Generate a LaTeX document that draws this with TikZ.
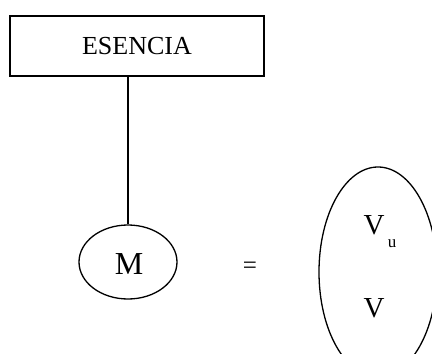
\documentclass[tikz,border=0pt]{standalone}
\usepackage{fontspec}
\setmainfont{Liberation Serif}
\usetikzlibrary{shapes.geometric}
\begin{document}
\begin{tikzpicture}[x=1pt,y=-1pt,
  titlebox/.style={draw,line width=1.8pt,rectangle,minimum width=254pt,minimum height=60pt,inner sep=0pt,font=\fontsize{26}{30}\selectfont},
  oval/.style={draw,line width=1.3pt,ellipse,inner sep=0pt},
  lbl/.style={inner sep=0pt,anchor=center}]
\useasboundingbox (0,0) rectangle (432,354);
% heading box
\node[titlebox] (box) at (137,46) {ESENCIA};
% small oval with M
\node[oval,minimum width=98pt,minimum height=74pt] (m) at (128,262) {};
\node[lbl,font=\fontsize{32}{36}\selectfont] (mt) at (129,264) {M};
% tall oval on the right
\node[oval,minimum width=118pt,minimum height=210pt] (big) at (378,272) {};
\node[lbl,font=\fontsize{29}{34}\selectfont] (v1) at (374,225) {V};
\node[lbl,font=\fontsize{17}{20}\selectfont] (u) at (392,244) {u};
\node[lbl,font=\fontsize{29}{34}\selectfont] (v2) at (374,308) {V};
% equals sign
\node[lbl,font=\fontsize{25}{30}\selectfont] (eq) at (250,268) {=};
% stem from the box down to the oval
\draw[line width=1.3pt] (m.north |- box.south) -- (m.north);
\end{tikzpicture}
\end{document}
